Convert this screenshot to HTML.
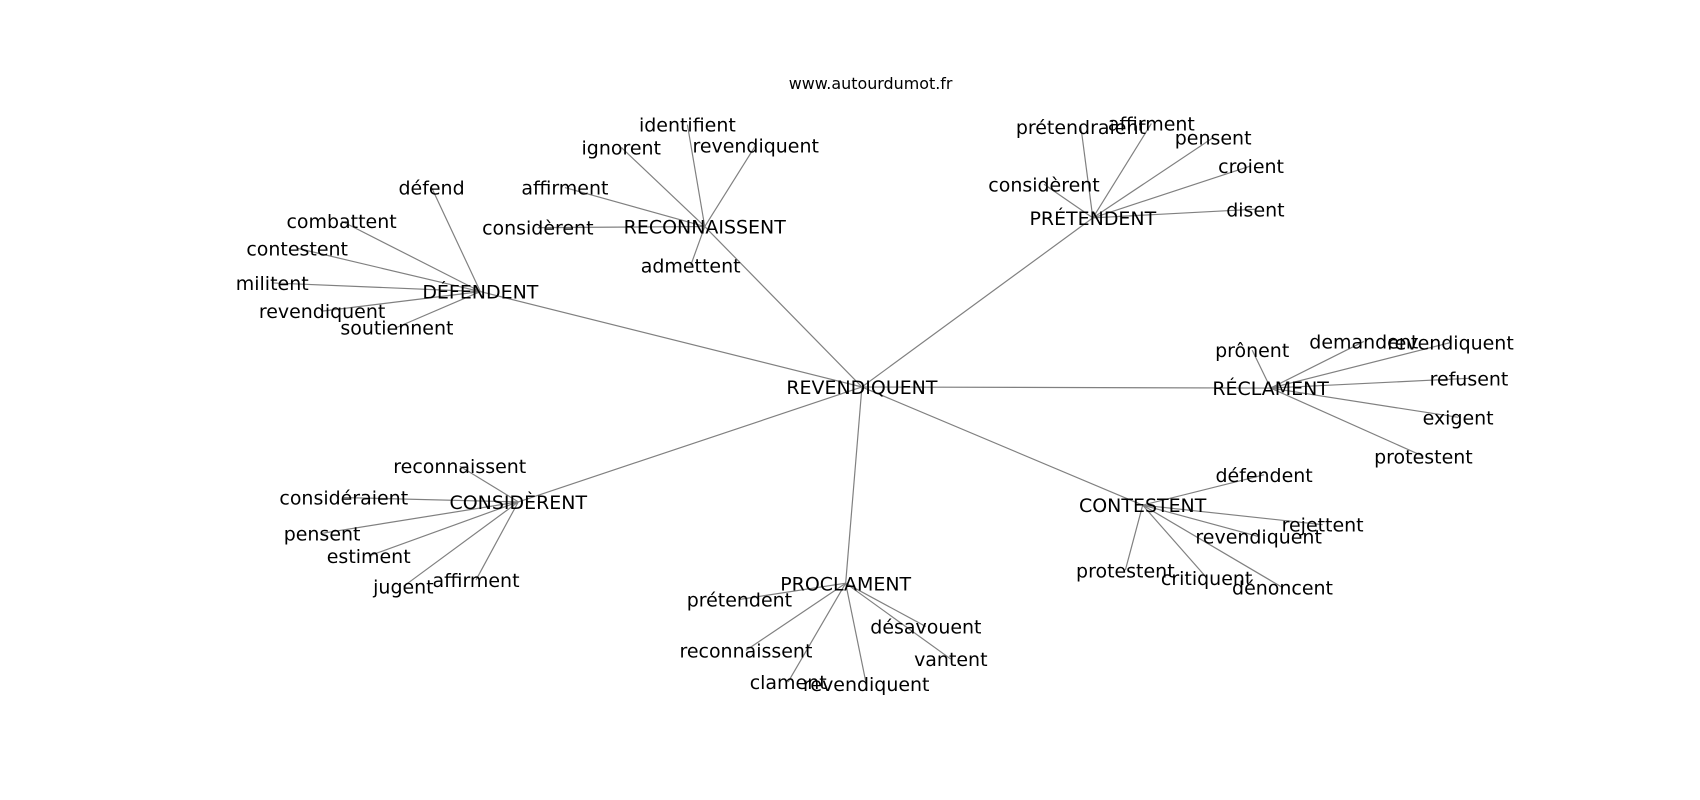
<!DOCTYPE html>
<html><head><meta charset="utf-8"><style>
html,body{margin:0;padding:0;background:#fff;}
svg{display:block;}
text{font-family:"DejaVu Sans","Liberation Sans",sans-serif;font-size:17.5px;fill:#000;text-anchor:middle;dominant-baseline:central;}
line{stroke:#808080;stroke-width:1.1;}
</style></head><body>
<svg width="1700" height="800" viewBox="0 0 1568 738" xmlns="http://www.w3.org/2000/svg">
<g>
<line x1="795" y1="357" x2="650" y2="209"/>
<line x1="795" y1="357" x2="1008" y2="201"/>
<line x1="795" y1="357" x2="443" y2="269"/>
<line x1="795" y1="357" x2="1172" y2="358"/>
<line x1="795" y1="357" x2="478" y2="463"/>
<line x1="795" y1="357" x2="780" y2="538"/>
<line x1="795" y1="357" x2="1054" y2="466"/>
<line x1="650" y1="209" x2="634" y2="115"/>
<line x1="650" y1="209" x2="573" y2="136"/>
<line x1="650" y1="209" x2="697" y2="134"/>
<line x1="650" y1="209" x2="521" y2="173"/>
<line x1="650" y1="209" x2="496" y2="210"/>
<line x1="650" y1="209" x2="637" y2="245"/>
<line x1="1008" y1="201" x2="997" y2="117"/>
<line x1="1008" y1="201" x2="1062" y2="114"/>
<line x1="1008" y1="201" x2="1119" y2="127"/>
<line x1="1008" y1="201" x2="1154" y2="153"/>
<line x1="1008" y1="201" x2="1158" y2="193"/>
<line x1="1008" y1="201" x2="963" y2="170"/>
<line x1="443" y1="269" x2="398" y2="173"/>
<line x1="443" y1="269" x2="315" y2="204"/>
<line x1="443" y1="269" x2="274" y2="229"/>
<line x1="443" y1="269" x2="251" y2="261"/>
<line x1="443" y1="269" x2="297" y2="287"/>
<line x1="443" y1="269" x2="366" y2="302"/>
<line x1="1172" y1="358" x2="1155" y2="323"/>
<line x1="1172" y1="358" x2="1258" y2="315"/>
<line x1="1172" y1="358" x2="1338" y2="316"/>
<line x1="1172" y1="358" x2="1355" y2="349"/>
<line x1="1172" y1="358" x2="1345" y2="385"/>
<line x1="1172" y1="358" x2="1313" y2="421"/>
<line x1="478" y1="463" x2="424" y2="430"/>
<line x1="478" y1="463" x2="317" y2="459"/>
<line x1="478" y1="463" x2="297" y2="492"/>
<line x1="478" y1="463" x2="340" y2="513"/>
<line x1="478" y1="463" x2="372" y2="541"/>
<line x1="478" y1="463" x2="439" y2="535"/>
<line x1="780" y1="538" x2="682" y2="553"/>
<line x1="780" y1="538" x2="688" y2="600"/>
<line x1="780" y1="538" x2="727" y2="629"/>
<line x1="780" y1="538" x2="799" y2="631"/>
<line x1="780" y1="538" x2="854" y2="578"/>
<line x1="780" y1="538" x2="877" y2="608"/>
<line x1="1054" y1="466" x2="1166" y2="438"/>
<line x1="1054" y1="466" x2="1220" y2="484"/>
<line x1="1054" y1="466" x2="1161" y2="495"/>
<line x1="1054" y1="466" x2="1183" y2="542"/>
<line x1="1054" y1="466" x2="1113" y2="533"/>
<line x1="1054" y1="466" x2="1038" y2="526"/>
</g>
<g transform="translate(0,1)">
<text x="803" y="76" style="font-size:14.7px">www.autourdumot.fr</text>
<text x="795" y="357">REVENDIQUENT</text>
<text x="650" y="209">RECONNAISSENT</text>
<text x="1008" y="201">PRÉTENDENT</text>
<text x="443" y="269">DÉFENDENT</text>
<text x="1172" y="358">RÉCLAMENT</text>
<text x="478" y="463">CONSIDÈRENT</text>
<text x="780" y="538">PROCLAMENT</text>
<text x="1054" y="466">CONTESTENT</text>
<text x="634" y="115">identifient</text>
<text x="573" y="136">ignorent</text>
<text x="697" y="134">revendiquent</text>
<text x="521" y="173">affirment</text>
<text x="496" y="210">considèrent</text>
<text x="637" y="245">admettent</text>
<text x="997" y="117">prétendraient</text>
<text x="1062" y="114">affirment</text>
<text x="1119" y="127">pensent</text>
<text x="1154" y="153">croient</text>
<text x="1158" y="193">disent</text>
<text x="963" y="170">considèrent</text>
<text x="398" y="173">défend</text>
<text x="315" y="204">combattent</text>
<text x="274" y="229">contestent</text>
<text x="251" y="261">militent</text>
<text x="297" y="287">revendiquent</text>
<text x="366" y="302">soutiennent</text>
<text x="1155" y="323">prônent</text>
<text x="1258" y="315">demandent</text>
<text x="1338" y="316">revendiquent</text>
<text x="1355" y="349">refusent</text>
<text x="1345" y="385">exigent</text>
<text x="1313" y="421">protestent</text>
<text x="424" y="430">reconnaissent</text>
<text x="317" y="459">considéraient</text>
<text x="297" y="492">pensent</text>
<text x="340" y="513">estiment</text>
<text x="372" y="541">jugent</text>
<text x="439" y="535">affirment</text>
<text x="682" y="553">prétendent</text>
<text x="688" y="600">reconnaissent</text>
<text x="727" y="629">clament</text>
<text x="799" y="631">revendiquent</text>
<text x="854" y="578">désavouent</text>
<text x="877" y="608">vantent</text>
<text x="1166" y="438">défendent</text>
<text x="1220" y="484">rejettent</text>
<text x="1161" y="495">revendiquent</text>
<text x="1183" y="542">dénoncent</text>
<text x="1113" y="533">critiquent</text>
<text x="1038" y="526">protestent</text>
</g>
</svg>
</body></html>
